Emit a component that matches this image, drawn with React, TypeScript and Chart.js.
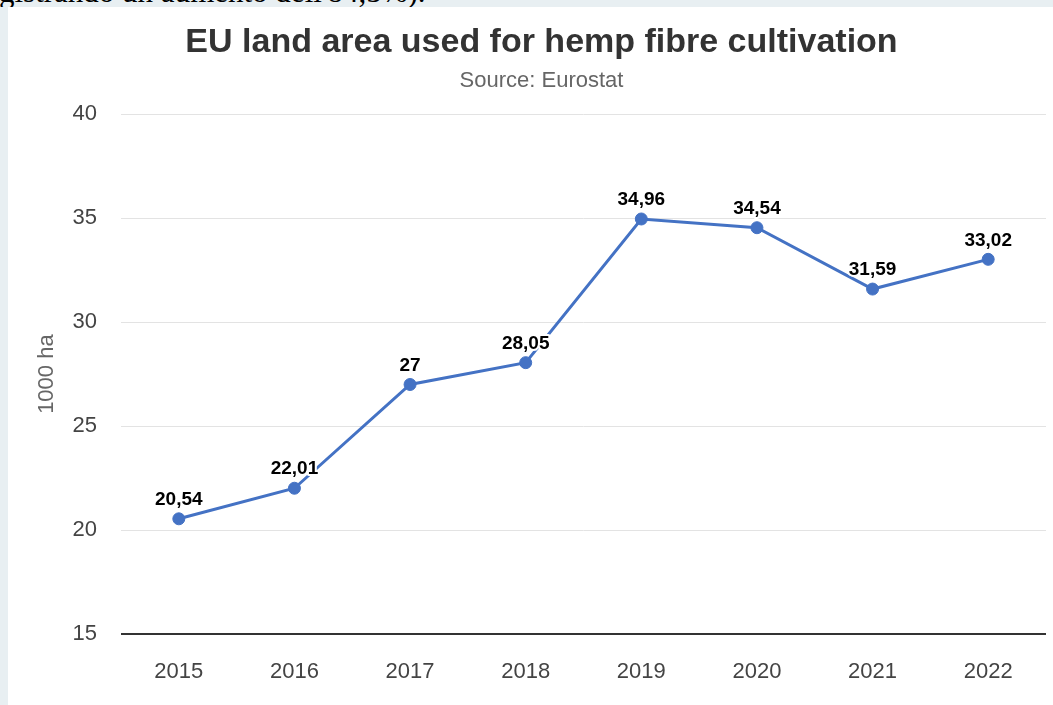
import React, { useEffect, useRef } from "react";
import { Chart, registerables } from "chart.js";

Chart.register(...registerables);

const years = ["2015", "2016", "2017", "2018", "2019", "2020", "2021", "2022"];
const areaThousandHa = [20.54, 22.01, 27, 28.05, 34.96, 34.54, 31.59, 33.02];
const yTicks = { min: 15, max: 40, step: 5 };
const chartTitle = "EU land area used for hemp fibre cultivation";
const chartSubtitle = "Source: Eurostat";
const yAxisTitle = "1000 ha";
const topText = "gistrando un aumento dell'84,5%).";

const FONT = "'Liberation Sans', Arial, sans-serif";
const LINE_COLOR = "#4472c4";

const dataLabelPlugin = {
  id: "dataLabels",
  afterDatasetsDraw(chart: any) {
    const ctx = chart.ctx;
    const meta = chart.getDatasetMeta(0);
    const data = chart.data.datasets[0].data as number[];
    ctx.save();
    ctx.font = `bold 19px ${FONT}`;
    ctx.textAlign = "center";
    ctx.textBaseline = "middle";
    ctx.lineJoin = "round";
    meta.data.forEach((pt: any, i: number) => {
      const txt = String(data[i]).replace(".", ",");
      const x = pt.x;
      const y = pt.y - 19;
      ctx.strokeStyle = "#ffffff";
      ctx.lineWidth = 4;
      ctx.strokeText(txt, x, y);
      ctx.fillStyle = "#000000";
      ctx.fillText(txt, x, y);
    });
    ctx.restore();
  },
};

export default function App() {
  const ref = useRef<HTMLCanvasElement>(null);

  useEffect(() => {
    if (!ref.current) return;
    Chart.defaults.font.family = FONT;
    const chart = new Chart(ref.current, {
      type: "line",
      data: {
        labels: years,
        datasets: [
          {
            data: areaThousandHa,
            borderColor: LINE_COLOR,
            backgroundColor: LINE_COLOR,
            borderWidth: 3,
            pointRadius: 6,
            pointBackgroundColor: LINE_COLOR,
            pointBorderColor: LINE_COLOR,
            pointBorderWidth: 1,
            tension: 0,
          },
        ],
      },
      options: {
        responsive: false,
        animation: false,
        layout: { padding: { left: 26, right: 4, top: 0, bottom: 20 } },
        plugins: {
          legend: { display: false },
          tooltip: { enabled: false },
          title: {
            display: true,
            text: chartTitle,
            color: "#333333",
            font: { size: 34, weight: "bold", family: FONT },
            padding: { top: 15, bottom: 5 },
          },
          subtitle: {
            display: true,
            text: chartSubtitle,
            color: "#666666",
            font: { size: 22, family: FONT },
            padding: { top: 0, bottom: 20 },
          },
        },
        scales: {
          x: {
            offset: true,
            afterFit(scale: any) {
              scale.height = 51;
            },
            grid: { display: false, drawTicks: false },
            border: { display: false },
            ticks: { color: "#444444", font: { size: 22 }, padding: 25 },
          },
          y: {
            min: yTicks.min,
            max: yTicks.max,
            afterFit(scale: any) {
              scale.width = 87;
            },
            ticks: {
              stepSize: yTicks.step,
              color: "#444444",
              font: { size: 22 },
              padding: 24,
            },
            grid: {
              drawTicks: false,
              color: (c: any) => (c.tick && c.tick.value === yTicks.min ? "#333333" : "#e3e3e3"),
              lineWidth: (c: any) => (c.tick && c.tick.value === yTicks.min ? 2 : 1),
            },
            border: { display: false },
            title: {
              display: true,
              text: yAxisTitle,
              color: "#666666",
              font: { size: 22 },
              padding: 0,
            },
          },
        },
      },
      plugins: [dataLabelPlugin],
    });
    return () => chart.destroy();
  }, []);

  return (
    <div
      style={{
        position: "fixed",
        left: 0,
        top: 0,
        width: 1053,
        height: 705,
        background: "#e8eff2",
        overflow: "hidden",
      }}
    >
      <div
        style={{
          position: "absolute",
          left: 0,
          top: 0,
          width: 1053,
          height: 7,
          overflow: "hidden",
        }}
      >
        <span
          style={{
            position: "absolute",
            left: -1,
            top: -24,
            fontFamily: "'Liberation Serif', 'Times New Roman', serif",
            fontSize: 31,
            lineHeight: "31px",
            whiteSpace: "nowrap",
            color: "#000",
          }}
        >
          {topText}
        </span>
      </div>
      <div
        style={{
          position: "absolute",
          left: 8,
          top: 7,
          width: 1045,
          height: 698,
          background: "#ffffff",
        }}
      >
        <canvas ref={ref} width={1045} height={698} style={{ width: 1045, height: 698, display: "block" }} />
      </div>
    </div>
  );
}
